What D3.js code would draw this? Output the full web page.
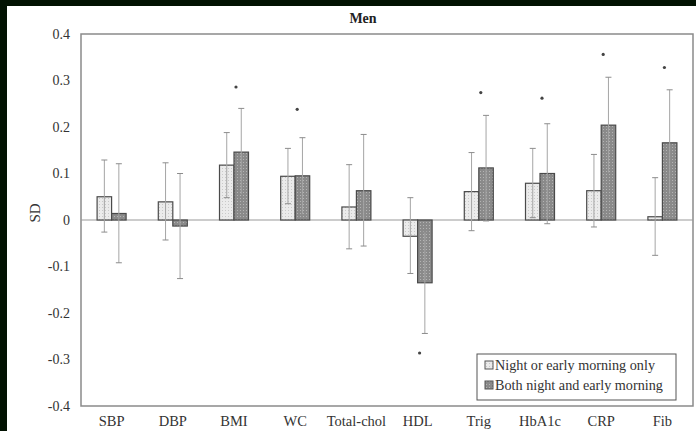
<!DOCTYPE html>
<html>
<head>
<meta charset="utf-8">
<script src="https://cdn.jsdelivr.net/npm/d3@7"></script>
<style>
  html, body { margin: 0; padding: 0; background: #021202; }
  #canvas { position: absolute; left: 0; top: 0; width: 696px; height: 431px; }
</style>
</head>
<body>
<div id="canvas"></div>
<script>
const categories = ["SBP", "DBP", "BMI", "WC", "Total-chol", "HDL", "Trig", "HbA1c", "CRP", "Fib"];

// Night or early morning only
const nightOnly   = [0.050, 0.039, 0.118, 0.094, 0.028, -0.035, 0.061, 0.079, 0.063, 0.007];
const nightOnlyLo = [-0.026, -0.043, 0.048, 0.035, -0.062, -0.115, -0.023, 0.005, -0.015, -0.076];
const nightOnlyHi = [0.129, 0.123, 0.188, 0.154, 0.119, 0.048, 0.145, 0.154, 0.141, 0.091];

// Both night and early morning
const bothNight   = [0.014, -0.013, 0.146, 0.095, 0.063, -0.135, 0.112, 0.100, 0.204, 0.166];
const bothNightLo = [-0.092, -0.126, 0.055, 0.012, -0.056, -0.244, -0.002, -0.008, 0.101, 0.055];
const bothNightHi = [0.121, 0.100, 0.240, 0.177, 0.184, -0.026, 0.225, 0.207, 0.307, 0.280];

// significance markers
const starValues = [null, null, 0.286, 0.238, null, -0.286, 0.274, 0.262, 0.356, 0.328];

const yTicks = [0.4, 0.3, 0.2, 0.1, 0, -0.1, -0.2, -0.3, -0.4];
const legendLabels = ["Night or early morning only", "Both night and early morning"];

const FONT = "Liberation Serif, Tinos, DejaVu Serif, serif";
const w = 696, h = 431;
const margin = {top: 34, left: 81, right: 3, bottom: 25};

const svg = d3.select("#canvas").append("svg")
  .attr("width", w).attr("height", h)
  .style("font-family", FONT);

// dark frame + white page
svg.append("rect").attr("width", w).attr("height", h).attr("fill", "#021202");
svg.append("rect").attr("x", 7).attr("y", 6).attr("width", w - 7).attr("height", h - 6).attr("fill", "#fff");

const defs = svg.append("defs");
const pLight = defs.append("pattern").attr("id", "pLight")
  .attr("width", 3).attr("height", 3).attr("patternUnits", "userSpaceOnUse");
pLight.append("rect").attr("width", 3).attr("height", 3).attr("fill", "#ebebeb");
pLight.append("rect").attr("width", 1).attr("height", 1).attr("fill", "#c9c9c9");

const pDark = defs.append("pattern").attr("id", "pDark")
  .attr("width", 3).attr("height", 3).attr("patternUnits", "userSpaceOnUse");
pDark.append("rect").attr("width", 3).attr("height", 3).attr("fill", "#8a8a8a");
pDark.append("rect").attr("width", 1).attr("height", 1).attr("fill", "#b4b4b4");

const x = d3.scaleBand().domain(categories).range([margin.left, w - margin.right]);
const y = d3.scaleLinear().domain([-0.4, 0.4]).range([h - margin.bottom, margin.top]);
const barW = x.bandwidth() * 0.237;

// plot frame
svg.append("rect")
  .attr("x", margin.left).attr("y", margin.top)
  .attr("width", w - margin.right - margin.left)
  .attr("height", y(-0.4) - y(0.4))
  .attr("fill", "none").attr("stroke", "#8a8a8a").attr("stroke-width", 1.5);

// y axis (hyphen minus like the original, not U+2212)
const yAxis = d3.axisLeft(y).tickValues(yTicks).tickSize(0).tickPadding(11)
  .tickFormat(d => d === 0 ? "0" : d.toFixed(1));
const ya = svg.append("g").attr("transform", "translate(" + margin.left + ",0)").call(yAxis);
ya.attr("font-family", null).attr("font-size", null);
ya.select(".domain").remove();
ya.selectAll("text").style("font-size", "14px").attr("fill", "#333");

// x axis labels
const xAxis = d3.axisBottom(x).tickSize(0).tickPadding(10);
const xa = svg.append("g").attr("transform", "translate(0," + y(-0.4) + ")").call(xAxis);
xa.attr("font-family", null).attr("font-size", null);
xa.select(".domain").remove();
xa.selectAll("text").style("font-size", "14.5px").attr("fill", "#333");

// zero line
svg.append("line")
  .attr("x1", margin.left).attr("x2", w - margin.right)
  .attr("y1", y(0)).attr("y2", y(0))
  .attr("stroke", "#999").attr("stroke-width", 1.2);

const series = [
  {vals: nightOnly, lo: nightOnlyLo, hi: nightOnlyHi, fill: "url(#pLight)", off: -1},
  {vals: bothNight, lo: bothNightLo, hi: bothNightHi, fill: "url(#pDark)", off: 0}
];

series.forEach(s => {
  const g = svg.append("g");
  const cx = (d, i) => x(categories[i]) + x.bandwidth() / 2 + s.off * barW;
  g.selectAll("rect").data(s.vals).enter().append("rect")
    .attr("x", cx)
    .attr("y", d => y(Math.max(0, d)))
    .attr("width", barW)
    .attr("height", d => Math.abs(y(d) - y(0)))
    .attr("fill", s.fill)
    .attr("stroke", "#4a4a4a").attr("stroke-width", 1.2);

  // error bars
  const eb = g.selectAll(".eb").data(s.vals).enter().append("g").attr("class", "eb");
  eb.append("line")
    .attr("x1", (d, i) => cx(d, i) + barW / 2).attr("x2", (d, i) => cx(d, i) + barW / 2)
    .attr("y1", (d, i) => y(s.lo[i])).attr("y2", (d, i) => y(s.hi[i]))
    .attr("stroke", "#a5a5a5").attr("stroke-width", 1);
  [s.lo, s.hi].forEach(arr => {
    eb.append("line")
      .attr("x1", (d, i) => cx(d, i) + barW / 2 - 3).attr("x2", (d, i) => cx(d, i) + barW / 2 + 3)
      .attr("y1", (d, i) => y(arr[i])).attr("y2", (d, i) => y(arr[i]))
      .attr("stroke", "#8c8c8c").attr("stroke-width", 1);
  });
});

// stars (rendered as small dots in the source figure)
svg.append("g").selectAll("circle")
  .data(categories.map((c, i) => ({c: c, v: starValues[i]})).filter(d => d.v !== null))
  .enter().append("circle")
  .attr("cx", d => x(d.c) + x.bandwidth() / 2 + 2)
  .attr("cy", d => y(d.v))
  .attr("r", 1.6)
  .attr("fill", "#444");

// title
svg.append("text").attr("x", 363).attr("y", 23)
  .attr("text-anchor", "middle")
  .style("font-size", "14px").style("font-weight", "bold")
  .attr("fill", "#222").text("Men");

// y label
svg.append("text")
  .attr("transform", "translate(40," + 213 + ") rotate(-90)")
  .attr("text-anchor", "middle")
  .style("font-size", "15px").attr("fill", "#333")
  .text("SD");

// legend
const legend = svg.append("g").attr("transform", "translate(477,354)");
legend.append("rect").attr("width", 199).attr("height", 46)
  .attr("fill", "#fff").attr("stroke", "#555").attr("stroke-width", 1);
legendLabels.forEach((lab, i) => {
  legend.append("rect")
    .attr("x", 8).attr("y", 7 + i * 20).attr("width", 8).attr("height", 8)
    .attr("fill", series[i].fill).attr("stroke", "#555").attr("stroke-width", 1);
  legend.append("text")
    .attr("x", 18).attr("y", 15.5 + i * 20)
    .style("font-size", "14.2px").attr("fill", "#333").text(lab);
});
</script>
</body>
</html>
